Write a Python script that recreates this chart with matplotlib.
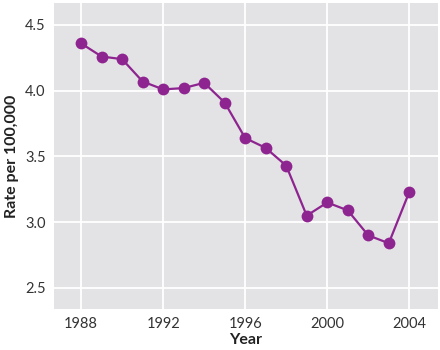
import matplotlib.pyplot as plt

# yearly rate per 100,000
years = [1988, 1989, 1990, 1991, 1992, 1993, 1994, 1995, 1996,
         1997, 1998, 1999, 2000, 2001, 2002, 2003, 2004]
rates = [4.36, 4.26, 4.24, 4.07, 4.01, 4.02, 4.06, 3.91, 3.64,
         3.565, 3.43, 3.05, 3.15, 3.09, 2.90, 2.84, 3.23]
xticks = [1988, 1992, 1996, 2000, 2004]
yticks = [2.5, 3.0, 3.5, 4.0, 4.5]

plt.rcParams['font.family'] = ['Lato', 'DejaVu Sans']

fig = plt.figure(figsize=(4.4, 3.5), dpi=100)
ax = fig.add_axes([54/440, 1 - 309/350, 384/440, 306/350])
ax.set_facecolor('#e3e3e5')
for s in ax.spines.values():
    s.set_visible(False)

ax.plot(years, rates, color='#8e2490', lw=1.6, marker='o', ms=8.5,
        markeredgewidth=0, zorder=3)

ax.set_xlim(1986.68, 2005.4)
ax.set_ylim(2.34, 4.667)
ax.set_xticks(xticks)
ax.set_yticks(yticks)
ax.set_yticklabels([f'{v:.1f}' for v in yticks])
ax.grid(True, color='white', lw=1.3)
ax.set_axisbelow(True)
ax.tick_params(length=0, labelsize=10.5, colors='#333333', pad=6)

ax.set_xlabel('Year', fontsize=11.5, fontweight='bold', color='#222222', labelpad=1)
ax.set_ylabel('Rate per 100,000', fontsize=11.5, fontweight='bold', color='#222222', labelpad=4)

fig.savefig('out.png', dpi=100)
